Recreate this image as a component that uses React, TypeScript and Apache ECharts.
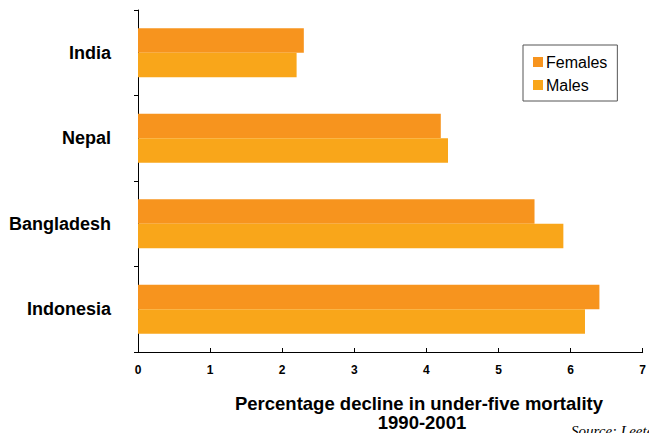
import React, { useEffect, useRef } from "react";
import * as echarts from "echarts";

const categories = ["India", "Nepal", "Bangladesh", "Indonesia"];
const females = [2.3, 4.2, 5.5, 6.4];
const males = [2.2, 4.3, 5.9, 6.2];
const xTicks = [0, 1, 2, 3, 4, 5, 6, 7];

export default function App() {
  const ref = useRef<HTMLDivElement>(null);
  useEffect(() => {
    const chart = echarts.init(ref.current!, null, { renderer: "svg" });
    chart.setOption({
      animation: false,
      backgroundColor: "#ffffff",
      grid: { left: 138, right: 1, top: 10, bottom: 81, containLabel: false },
      legend: {
        orient: "vertical",
        left: 523,
        top: 45,
        data: ["Females", "Males"],
        itemWidth: 10,
        itemHeight: 10,
        itemGap: 7,
        padding: [9, 10, 8, 10],
        borderColor: "#555",
        borderWidth: 1,
        icon: "rect",
        textStyle: { fontFamily: "Liberation Sans, Arial", fontSize: 16, color: "#000", padding: [0, 0, 0, -2] },
      },
      xAxis: {
        type: "value",
        min: xTicks[0],
        max: xTicks[xTicks.length - 1],
        interval: 1,
        splitLine: { show: false },
        axisLine: { show: true, lineStyle: { color: "#000", width: 1 } },
        axisTick: { show: true, inside: true, length: 4, lineStyle: { color: "#000" } },
        axisLabel: {
          color: "#000",
          fontWeight: "bold",
          fontFamily: "Liberation Sans, Arial",
          fontSize: 12,
          margin: 12,
        },
      },
      yAxis: {
        type: "category",
        data: categories,
        inverse: true,
        axisLine: { show: true, lineStyle: { color: "#000", width: 1 } },
        axisTick: { show: true, length: 4, lineStyle: { color: "#000" } },
        axisLabel: {
          color: "#000",
          fontWeight: "bold",
          fontFamily: "Liberation Sans, Arial",
          fontSize: 18,
          margin: 27,
        },
      },
      graphic: [
        {
          type: "text",
          x: 419,
          y: 394,
          style: {
            text: "Percentage decline in under-five mortality",
            textAlign: "center",
            fontFamily: "Liberation Sans, Arial",
            fontWeight: "bold",
            fontSize: 18.5,
            fill: "#000",
          },
        },
        {
          type: "text",
          x: 422,
          y: 413,
          style: {
            text: "1990-2001",
            textAlign: "center",
            fontFamily: "Liberation Sans, Arial",
            fontWeight: "bold",
            fontSize: 18.5,
            fill: "#000",
          },
        },
        {
          type: "text",
          x: 571,
          y: 423,
          style: {
            text: "Source: Leete (2003)",
            fontFamily: "Liberation Serif, Times New Roman",
            fontStyle: "italic",
            fontSize: 15,
            fill: "#000",
          },
        },
      ],
      series: [
        {
          name: "Females",
          type: "bar",
          data: females,
          barWidth: 24.5,
          barGap: "0%",
          itemStyle: { color: "#F7941E" },
        },
        {
          name: "Males",
          type: "bar",
          data: males,
          barWidth: 24.5,
          barGap: "0%",
          itemStyle: { color: "#F9A61A" },
        },
      ],
    });
    return () => chart.dispose();
  }, []);
  return <div ref={ref} style={{ position: "absolute", left: 0, top: 0, width: 649, height: 433 }} />;
}
